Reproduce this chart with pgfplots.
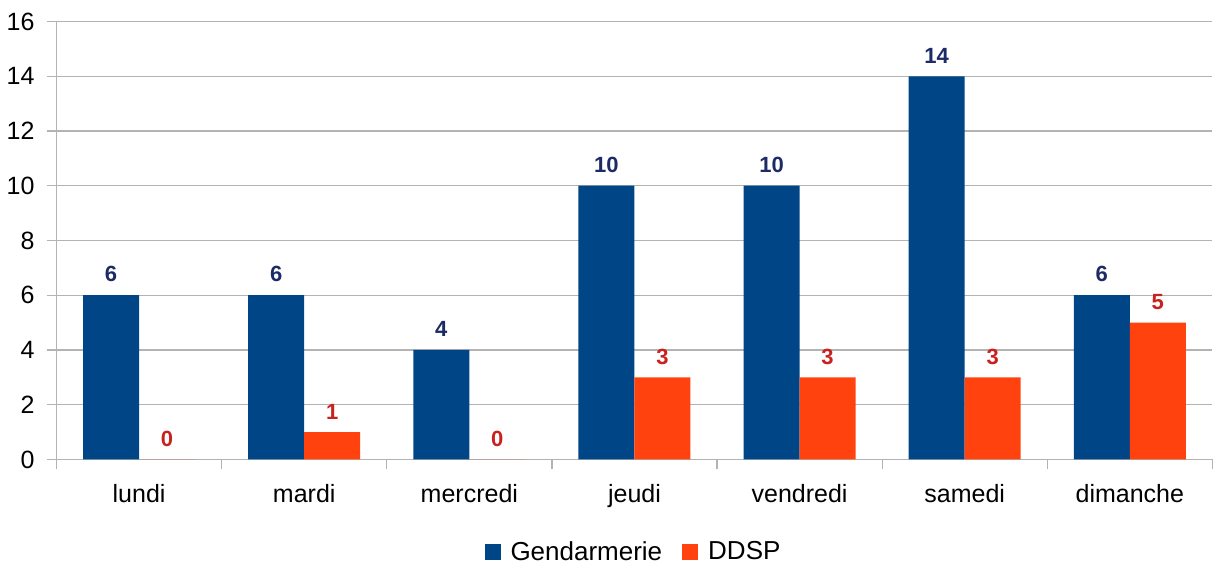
\documentclass[border=0pt]{standalone}
\usepackage{pgfplots}
\pgfplotsset{compat=1.18}
\usepackage{fontspec}
\setmainfont{Liberation Sans}
\definecolor{gend}{HTML}{004586}
\definecolor{ddsp}{HTML}{FF420E}
\definecolor{gendlbl}{HTML}{1C2A66}
\definecolor{ddsplbl}{HTML}{C9211E}
\definecolor{gridc}{HTML}{B3B3B3}
\begin{document}
\begin{tikzpicture}
\begin{axis}[
    scale only axis,
    width=578pt, height=219pt,
    ybar=0pt, bar width=28pt,
    xmin=-0.5, xmax=6.5,
    ymin=0, ymax=16,
    ytick={0,2,...,16},
    xtick={-0.5,0.5,...,6.5},
    x tick label as interval,
    xticklabels={lundi,mardi,mercredi,jeudi,vendredi,samedi,dimanche},
    ymajorgrids, grid style={gridc, line width=0.6pt},
    axis x line*=bottom, axis y line*=left,
    axis line style={gridc, line width=0.6pt, -},
    y axis line style={shorten <=-5pt},
    tick style={draw=gridc, line width=0.6pt},
    tick align=outside, major tick length=5pt,
    tick label style={font=\fontsize{12.5}{14}\selectfont},
    yticklabel style={xshift=-2.5pt},
    /pgf/number format/assume math mode=true,
    xticklabel style={yshift=-4pt},
    nodes near coords,
    every node near coord/.append style={font=\bfseries\fontsize{11}{13}\selectfont, yshift=3pt},
    legend style={at={(0.5,-0.172)}, anchor=north, draw=none, legend columns=-1, inner sep=1pt,
        font=\fontsize{13}{15}\selectfont,
        /tikz/every odd column/.append style={column sep=3pt},
        /tikz/every even column/.append style={column sep=8pt}},
    legend image code/.code={\fill[#1] (0pt,-4pt) rectangle (8pt,4pt);},
]
\addplot[fill=gend, draw=none, every node near coord/.append style={text=gendlbl}]
coordinates {(0,6) (1,6) (2,4) (3,10) (4,10) (5,14) (6,6)};
\addlegendentry{Gendarmerie}
\addplot[fill=ddsp, draw=none, every node near coord/.append style={text=ddsplbl}]
coordinates {(0,0) (1,1) (2,0) (3,3) (4,3) (5,3) (6,5)};
\addlegendentry{DDSP}
\end{axis}
\path ([yshift=3pt]current bounding box.north) -- ++(0,0);
\end{tikzpicture}
\end{document}
